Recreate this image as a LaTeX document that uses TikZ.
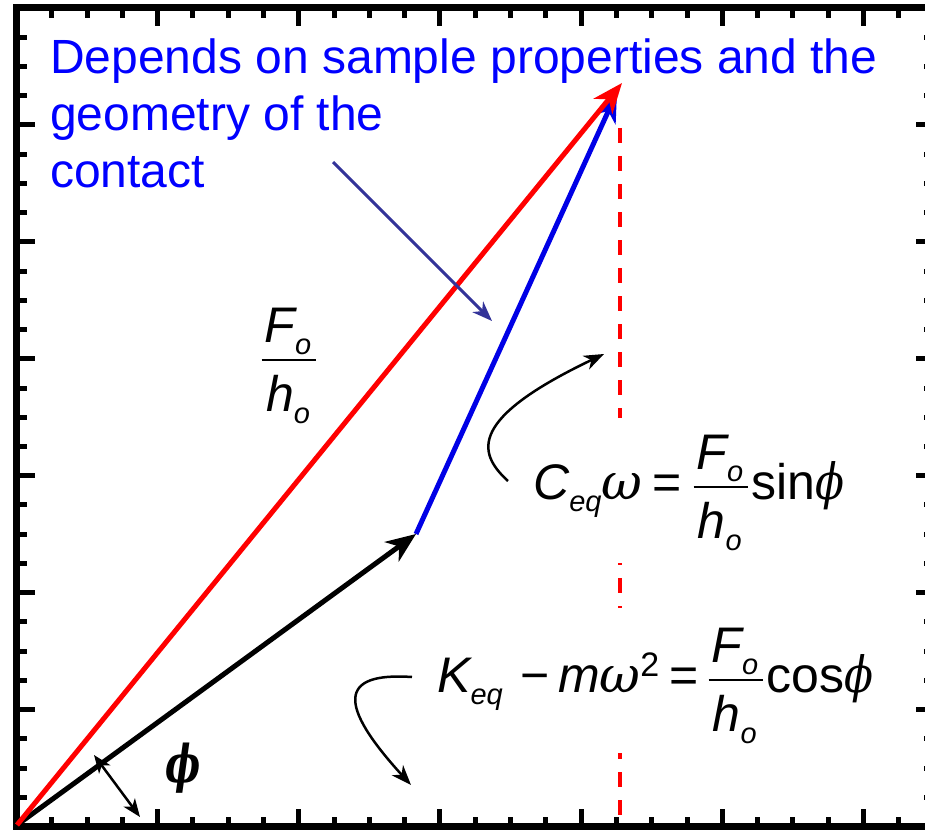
\documentclass[tikz,border=0pt]{standalone}
\usepackage{fontspec}
\setmainfont{Liberation Sans}
\newfontfamily\grk{DejaVu Serif}
\usetikzlibrary{arrows.meta}
\definecolor{navyarrow}{RGB}{51,51,153}
\definecolor{vred}{RGB}{255,0,0}
\definecolor{vblue}{RGB}{0,0,230}
\definecolor{txtblue}{RGB}{0,0,255}
\newcommand{\isubt}[1]{\raisebox{-12pt}{\fontsize{29}{29}\selectfont\itshape #1}}
\newcommand{\gom}{{\grk\itshape ω}}
\newcommand{\gph}{\scalebox{0.85}[1]{\grk\itshape ϕ}}
\newdimen\fracw
\newsavebox\numbox
\newsavebox\denbox
% F_o over h_o, bar 12pt above the baseline
\newcommand{\fh}{%
  \sbox\numbox{\kern3pt\itshape F\isubt{o}\kern5pt}%
  \sbox\denbox{\kern3pt\itshape h\isubt{o}\kern5pt}%
  \fracw=\wd\numbox
  \ifdim\wd\denbox>\fracw \fracw=\wd\denbox\fi
  \kern2pt
  \rlap{\raisebox{11pt}{\rule{\fracw}{2.2pt}}}%
  \rlap{\raisebox{30pt}{\hbox to\fracw{\hss\usebox\numbox\hss}}}%
  \raisebox{-39pt}{\hbox to\fracw{\hss\usebox\denbox\hss}}%
  \kern2pt}
\begin{document}
\begin{tikzpicture}[x=1pt,y=-1pt,
  frameline/.style={line width=7pt},
  tickline/.style={line width=5pt},
  vec/.style={line width=5pt, -{Stealth[length=30pt,width=24pt,inset=9pt]}},
  smallarrow/.style={line width=2.5pt, -{Stealth[length=20pt,width=15pt,inset=6pt]}},
  dashproj/.style={vred, line width=4pt, dash pattern=on 15pt off 13pt},
  eqn/.style={inner sep=0pt, font=\fontsize{50}{60}\selectfont},
  note/.style={inner sep=0pt, align=left, text=txtblue, font=\fontsize{48}{57}\selectfont},
]
\useasboundingbox (0,0) rectangle (925,829);
\clip (0,0) rectangle (925,829);
\fill[white] (0,0) rectangle (925,829);

% ticks
\foreach \k in {1,...,25} {
  \pgfmathsetmacro\xx{16.5+35.29*\k}
  \pgfmathtruncatemacro\m{mod(\k,4)}
  \ifnum\m=0 \def\L{18}\else\def\L{10}\fi
  \draw[tickline] (\xx,826.5) -- ++(0,-\L);
  \draw[tickline] (\xx,8) -- ++(0,\L);
}
\foreach \k in {1,...,27} {
  \pgfmathsetmacro\yy{826.5-29.232*\k}
  \pgfmathtruncatemacro\m{mod(\k,4)}
  \ifnum\m=0 \def\L{18}\else\def\L{10}\fi
  \draw[tickline] (16.5,\yy) -- ++(\L,0);
  \draw[tickline] (934,\yy) -- ++(-\L,0);
}
\draw[frameline] (16.5,8) rectangle (934,826.5);

% key points
\coordinate (O) at (17,825);
\coordinate (B) at (416,534);
\coordinate (R) at (622,83);
\coordinate (T) at (617,92);

% dashed projection (interrupted by the equations)
\coordinate (D1) at (620,128);
\coordinate (D2) at (620,418);
\coordinate (D3) at (620,563);
\coordinate (D4) at (620,608);
\coordinate (D5) at (620,753);
\coordinate (D6) at (620,818);
\draw[dashproj] (D1) -- (D2);
\draw[dashproj, dash phase=13pt] (D3) -- (D4);
\draw[dashproj, dash phase=9pt] (D5) -- (D6);

% vectors
\draw[vec, vblue] (B) -- (T);
\draw[vec, black] (O) -- (B);
\draw[vec, vred] (O) -- (R);

% note
\node[note, anchor=base west] (note) at (50,187) {Depends on sample properties and the\\geometry of the\\contact};
\coordinate (N1) at (333,162);
\coordinate (N2) at (492,321);
\draw[smallarrow, navyarrow, line width=3pt] (N1) -- (N2);

% labels
\node[eqn, anchor=base] (foh) at (289,372) {\fh};
\node[eqn, anchor=base west] (ceq) at (533,499) {{\itshape C\isubt{eq}}\gom\kern10pt=\kern10pt\fh\kern1pt sin\gph};
\node[eqn, anchor=base west] (keq) at (437,692) {{\itshape K\isubt{eq}}\kern18pt−\kern8pt{\itshape m}\gom\raisebox{16pt}{\fontsize{34}{34}\selectfont 2}\kern10pt=\kern8pt\fh\kern1pt cos\gph};
\node[eqn, font=\fontsize{52}{55}\selectfont] (phi) at (183,768) {\scalebox{0.72}[1]{\grk\bfseries\itshape ϕ}};

% curved pointers
\coordinate (C1) at (508,481);
\coordinate (C2) at (604,354);
\draw[smallarrow] (C1) .. controls (476,452) and (470,418) .. (C2);
\coordinate (K1) at (412,677);
\coordinate (K2) at (411,785);
\draw[smallarrow] (K1) .. controls (338,672) and (338,705) .. (K2);

% angle arrow
\coordinate (P1) at (94,755);
\coordinate (P2) at (140,817);
\draw[line width=2.5pt, {Stealth[length=18pt,width=14pt,inset=5pt]}-{Stealth[length=18pt,width=14pt,inset=5pt]}] (P1) -- (P2);
\end{tikzpicture}
\end{document}
